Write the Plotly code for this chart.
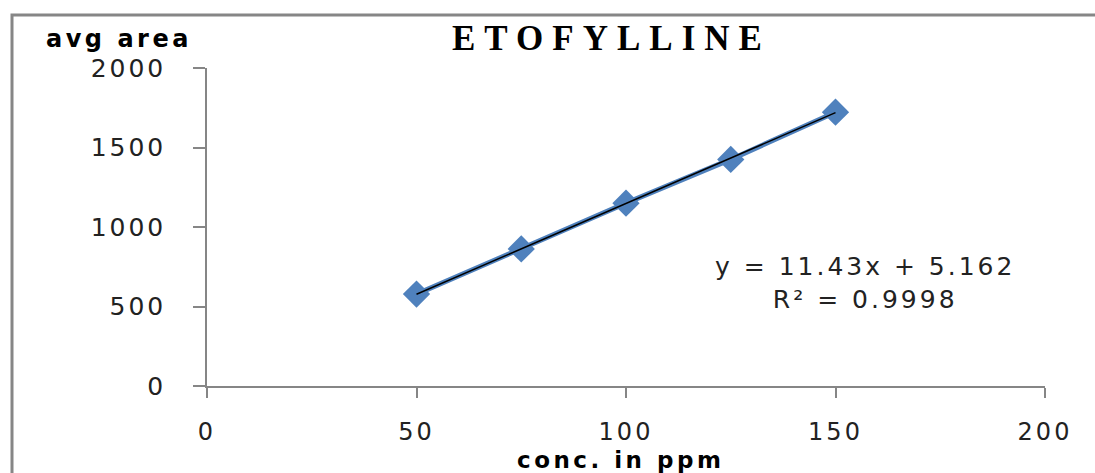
import plotly.graph_objects as go

conc = [50, 75, 100, 125, 150]
avg_area = [578, 862, 1150, 1425, 1722]
slope = 11.43
intercept = 5.162
r2 = 0.9998
x_ticks = [0, 50, 100, 150, 200]
y_ticks = [0, 500, 1000, 1500, 2000]
title = "ETOFYLLINE"
y_title = "avg area"
x_title = "conc. in ppm"

W, H = 1095, 473
L, R, T, B = 207, 50, 68, 87
pw, ph = W - L - R, H - T - B

def px(x):
    return (x - L) / pw

def py(y):
    return (H - B - y) / ph

def sp(s, n):
    return f"<span style='letter-spacing:{n}px'>{s}</span>"

axis_col = "#868686"
blue = "#4F81BD"
fig = go.Figure()
fig.add_trace(go.Scatter(
    x=conc, y=avg_area, mode="lines+markers",
    line=dict(color=blue, width=5),
    marker=dict(symbol="diamond", size=21, color=blue),
    showlegend=False))
fit_x = [min(conc), max(conc)]
fig.add_trace(go.Scatter(
    x=fit_x, y=[slope * v + intercept for v in fit_x], mode="lines",
    line=dict(color="black", width=1.5), showlegend=False))

fig.update_layout(
    width=W, height=H,
    margin=dict(l=L, r=R, t=T, b=B),
    paper_bgcolor="white", plot_bgcolor="white",
    font=dict(family="DejaVu Sans", color="#222222"),
    xaxis=dict(range=[0, 200], tickvals=x_ticks, ticktext=[sp(v, 3) for v in x_ticks],
               showgrid=False, zeroline=False,
               showline=True, linecolor=axis_col, linewidth=1.5,
               ticks="outside", ticklen=10, tickcolor=axis_col, tickwidth=1.5,
               tickfont=dict(size=24), ticklabelstandoff=13),
    yaxis=dict(range=[0, 2000], tickvals=y_ticks, ticktext=[sp(v, 3) for v in y_ticks],
               showgrid=False, zeroline=False,
               showline=True, linecolor=axis_col, linewidth=1.5,
               ticks="outside", ticklen=12, tickcolor=axis_col, tickwidth=1.5,
               tickfont=dict(size=25), ticklabelstandoff=22),
    shapes=[dict(type="rect", xref="paper", yref="paper",
                 x0=px(12), x1=px(W + 20), y0=py(H + 20), y1=py(15),
                 line=dict(color=axis_col, width=3), fillcolor="rgba(0,0,0,0)")],
    annotations=[
        dict(text="<b>" + sp(title, 9) + "</b>",
             xref="paper", yref="paper", x=px(611), y=py(39),
             showarrow=False, xanchor="center", yanchor="middle",
             font=dict(family="Liberation Serif", size=35, color="black")),
        dict(text="<b>" + sp(y_title, 3.5) + "</b>", xref="paper", yref="paper",
             x=px(119), y=py(39),
             showarrow=False, xanchor="center", yanchor="middle",
             font=dict(family="DejaVu Sans", size=24, color="black")),
        dict(text="<b>" + sp(x_title, 3.5) + "</b>", xref="paper", yref="paper",
             x=px(620), y=py(460),
             showarrow=False, xanchor="center", yanchor="middle",
             font=dict(family="DejaVu Sans", size=23, color="black")),
        dict(text=sp(f"y = {slope}x + {intercept}", 3) + "<br>" + sp(f"R² = {r2}", 3),
             xref="paper", yref="paper",
             x=px(865), y=py(283), showarrow=False, xanchor="center", yanchor="middle",
             align="center", font=dict(family="DejaVu Sans", size=25, color="#222222")),
    ],
)
fig.write_html("out.html")
